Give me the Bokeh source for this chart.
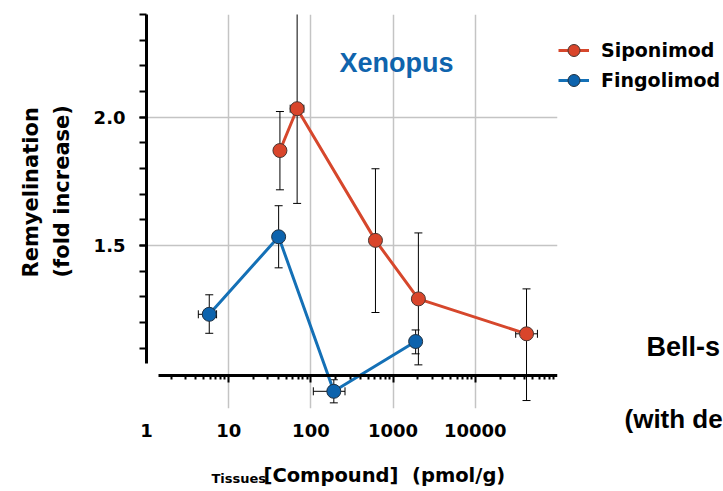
from bokeh.plotting import figure
from bokeh.models import (Range1d, FixedTicker, PrintfTickFormatter, Whisker, ColumnDataSource,
                          Legend, LegendItem, Label, TeeHead, LogAxis, Title)
from bokeh.core.properties import value
from bokeh.embed import file_html
from bokeh.resources import INLINE

# ---------------- data ----------------
sip_conc = [42, 68, 610, 2030, 42000]
sip_rem = [1.870, 2.033, 1.520, 1.292, 1.156]
sip_lo = [1.717, 1.664, 1.239, 1.035, 0.896]
sip_hi = [2.022, 2.450, 1.799, 1.549, 1.331]
sip_conc_lo = [42, 56, 610, 2030, 31000]
sip_conc_hi = [42, 82, 610, 2030, 57000]

fin_conc = [5.8, 40.5, 190, 1880]
fin_rem = [1.232, 1.534, 0.932, 1.126]
fin_lo = [1.158, 1.413, 0.887, 1.078]
fin_hi = [1.308, 1.655, 0.977, 1.171]
fin_conc_lo = [4.27, 40.5, 107, 1880]
fin_conc_hi = [7.12, 40.5, 260, 1880]

x_labels = [1, 10, 100, 1000, 10000]
x_major = [10, 100, 1000, 10000]
x_minor = [k * 10 ** d for d in range(5) for k in range(2, 10)]
y_ticks = [1.5, 2.0]
y_minor = [1.1, 1.2, 1.3, 1.4, 1.5, 1.6, 1.7, 1.8, 1.9, 2.0, 2.1, 2.2, 2.3, 2.4]

x_title = ["Tissues", "[Compound]\u00a0\u00a0(pmol/g)"]
side_notes = ["Bell-s", "(with de"]

RED = "#d6472c"
BLUE = "#1470b6"
RED_FILL = "#d9452b"
BLUE_FILL = "#0d63ad"
GF = "DejaVu Sans"
AF = "Liberation Sans"

p = figure(x_axis_type="log", x_range=Range1d(1, 1e5), y_range=Range1d(0.865, 2.4),
           frame_width=411, frame_height=394,
           min_border_left=146, min_border_right=166, min_border_top=14, min_border_bottom=83,
           output_backend="svg", toolbar_location=None)
p.outline_line_color = None
p.background_fill_color = "white"

# x axis line + ticks (GraphPad-style, offset)
xa = p.xaxis[0]
xa.ticker = FixedTicker(ticks=x_major, minor_ticks=x_minor)
xa.major_label_overrides = {t: "" for t in x_major}
xa.fixed_location = 0.995
xa.bounds = (1.39, 1e5)
xa.axis_line_width = 3
xa.axis_line_color = "black"
xa.major_tick_line_width = 2
xa.minor_tick_line_width = 2
xa.major_tick_out = 7
xa.major_tick_in = 0
xa.minor_tick_out = 4
xa.minor_tick_in = 0
xa.major_label_standoff = 0

# x tick labels
xl = LogAxis(ticker=FixedTicker(ticks=x_labels), formatter=PrintfTickFormatter(format="%d"),
             axis_line_color=None, major_tick_line_color=None, minor_tick_line_color=None,
             major_tick_out=0, major_tick_in=0, minor_tick_out=0, minor_tick_in=0,
             major_label_standoff=15, major_label_text_font=GF,
             major_label_text_font_style="bold", major_label_text_font_size="18px",
             major_label_text_color="black")
p.below.insert(0, xl)

# y axis
ya = p.yaxis[0]
ya.ticker = FixedTicker(ticks=y_ticks, minor_ticks=y_minor)
ya.formatter = PrintfTickFormatter(format="%.1f")
ya.bounds = (1.04, 2.4)
ya.axis_line_width = 3
ya.axis_line_color = "black"
ya.major_tick_line_width = 2
ya.minor_tick_line_width = 2
ya.major_tick_out = 7
ya.major_tick_in = 0
ya.minor_tick_out = 7
ya.minor_tick_in = 0
ya.major_label_standoff = 14
ya.major_label_text_font = GF
ya.major_label_text_font_style = "bold"
ya.major_label_text_font_size = "18px"
ya.major_label_text_color = "black"

# y axis title (side title, bottom-aligned like the original)
p.add_layout(Title(text="Remyelination\n(fold increase)", align="left", offset=131,
                   standoff=32, text_font=GF, text_font_style="bold", text_font_size="21px",
                   text_line_height=1.3, text_color="black"), "left")

# grids
p.xgrid.ticker = FixedTicker(ticks=x_major)
p.ygrid.ticker = FixedTicker(ticks=y_ticks)
for g in (p.xgrid[0], p.ygrid[0]):
    g.grid_line_color = "#c4c4c4"
    g.grid_line_width = 1.5

sip_src = ColumnDataSource(dict(x=sip_conc, y=sip_rem, lo=sip_lo, hi=sip_hi,
                                xlo=sip_conc_lo, xhi=sip_conc_hi))
fin_src = ColumnDataSource(dict(x=fin_conc, y=fin_rem, lo=fin_lo, hi=fin_hi,
                                xlo=fin_conc_lo, xhi=fin_conc_hi))


def head():
    return TeeHead(size=8, line_color="black", line_width=1)


for src in (sip_src, fin_src):
    p.add_layout(Whisker(source=src, base="x", lower="lo", upper="hi", dimension="height",
                         line_color="black", line_width=1, level="underlay",
                         upper_head=head(), lower_head=head()))
    p.add_layout(Whisker(source=src, base="y", lower="xlo", upper="xhi", dimension="width",
                         line_color="black", line_width=1, level="underlay",
                         upper_head=head(), lower_head=head()))

l1 = p.line("x", "y", source=sip_src, line_color=RED, line_width=3)
s1 = p.scatter("x", "y", source=sip_src, size=14, fill_color=RED_FILL, line_color="#4a3530", line_width=1)
l2 = p.line("x", "y", source=fin_src, line_color=BLUE, line_width=3)
s2 = p.scatter("x", "y", source=fin_src, size=14, fill_color=BLUE_FILL, line_color="#203040", line_width=1)

legend = Legend(items=[LegendItem(label="Siponimod", renderers=[l1, s1]),
                       LegendItem(label="Fingolimod", renderers=[l2, s2])],
                location=(1, 313), orientation="vertical",
                glyph_width=31, glyph_height=30, label_standoff=12, spacing=0,
                padding=0, margin=0, border_line_color=None, background_fill_alpha=0,
                label_text_font=GF, label_text_font_style="bold", label_text_font_size="19px",
                label_text_color="black")
p.add_layout(legend, "right")

p.add_layout(Label(x=193, y=346, x_units="screen", y_units="screen", text="Xenopus",
                   text_font=AF, text_font_style="bold", text_font_size="27px",
                   text_color="#0f64ad", text_baseline="middle"))

# texts outside the frame: anchored at the frame's top-left corner, offset in pixels
xt_src = ColumnDataSource(dict(text=x_title, x=[1, 1], y=[2.4, 2.4],
                               dx=[65, 117], dy=[464, 460.7], size=["13px", "19.5px"]))
p.text(x="x", y="y", text="text", x_offset="dx", y_offset="dy", source=xt_src,
       text_font=value(GF), text_font_size="size", text_font_style="bold",
       text_color="black", text_baseline="middle", text_align="left", level="overlay")

sn_src = ColumnDataSource(dict(text=side_notes, x=[1, 1], y=[2.4, 2.4],
                               dx=[500, 478], dy=[332.2, 404.7], size=["27px", "26px"]))
p.text(x="x", y="y", text="text", x_offset="dx", y_offset="dy", source=sn_src,
       text_font=value(AF), text_font_size="size", text_font_style="bold",
       text_color="black", text_baseline="middle", text_align="left", level="overlay")

open("out.html", "w").write(file_html(p, INLINE))
